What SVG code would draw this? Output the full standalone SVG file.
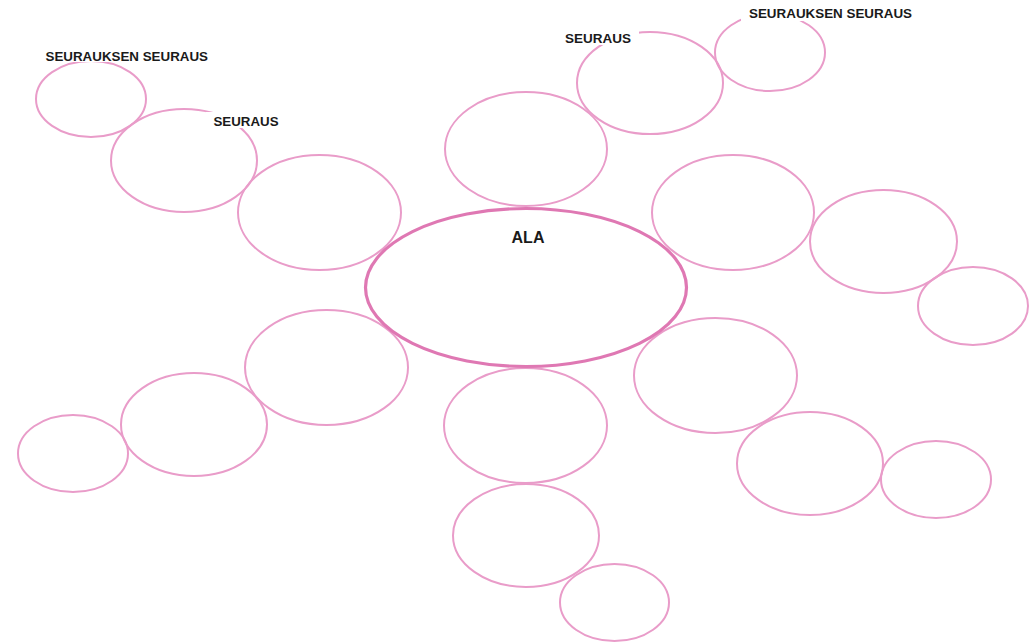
<svg xmlns="http://www.w3.org/2000/svg" width="1035" height="643" viewBox="0 0 1035 643">
<style>
.n{fill:none;stroke:#e99cc9;stroke-width:2}
.c{fill:none;stroke:#df78b3;stroke-width:3.2}
.t{font-family:"Liberation Sans",Arial,sans-serif;font-weight:bold;font-size:13.4px;fill:#1a1a1a}
.ta{font-family:"Liberation Sans",Arial,sans-serif;font-weight:bold;font-size:16px;fill:#1a1a1a}
.bg{fill:#ffffff}
</style>
<rect width="1035" height="643" fill="#ffffff"/>
<g id="connectors"></g>
<g id="n-top"><ellipse class="n" cx="526" cy="149" rx="81" ry="57"/></g>
<g id="n-topleft"><ellipse class="n" cx="319.5" cy="212.5" rx="81.5" ry="57.5"/></g>
<g id="n-topleft-2"><ellipse class="n" cx="184" cy="160.5" rx="73" ry="51.5"/></g>
<g id="n-topleft-3"><ellipse class="n" cx="91" cy="99" rx="55" ry="38"/></g>
<g id="n-topright-2"><ellipse class="n" cx="650" cy="83" rx="73" ry="51"/></g>
<g id="n-topright-3"><ellipse class="n" cx="770" cy="52.5" rx="55" ry="38.5"/></g>
<g id="n-right"><ellipse class="n" cx="733" cy="212.5" rx="81" ry="57.5"/></g>
<g id="n-right-2"><ellipse class="n" cx="883.5" cy="241.5" rx="73.5" ry="51.5"/></g>
<g id="n-right-3"><ellipse class="n" cx="973" cy="306" rx="55" ry="39"/></g>
<g id="n-bottomleft"><ellipse class="n" cx="326.5" cy="367.5" rx="81.5" ry="57.5"/></g>
<g id="n-bottomleft-2"><ellipse class="n" cx="194" cy="424.5" rx="73" ry="51.5"/></g>
<g id="n-bottomleft-3"><ellipse class="n" cx="73" cy="453.5" rx="55" ry="38.5"/></g>
<g id="n-bottom"><ellipse class="n" cx="525.5" cy="425.5" rx="81.5" ry="57.5"/></g>
<g id="n-bottom-2"><ellipse class="n" cx="526" cy="535.5" rx="73" ry="51.5"/></g>
<g id="n-bottom-3"><ellipse class="n" cx="614.5" cy="602.5" rx="54.5" ry="38.5"/></g>
<g id="n-bottomright"><ellipse class="n" cx="715.5" cy="375.5" rx="81.5" ry="57.5"/></g>
<g id="n-bottomright-2"><ellipse class="n" cx="810" cy="463.5" rx="73" ry="51.5"/></g>
<g id="n-bottomright-3"><ellipse class="n" cx="936" cy="479.5" rx="55" ry="38.5"/></g>
<g id="n-center">
<ellipse class="c" cx="526" cy="287.5" rx="160.5" ry="79"/>
<text class="ta" x="528" y="242.5" text-anchor="middle">ALA</text>
</g>
<g id="labels">
<rect class="bg" x="38" y="46" width="178" height="16"/>
<text class="t" x="45.5" y="60.5" textLength="162.5" lengthAdjust="spacingAndGlyphs">SEURAUKSEN SEURAUS</text>
<rect class="bg" x="206" y="112" width="80" height="16"/>
<text class="t" x="213.5" y="126" textLength="65" lengthAdjust="spacingAndGlyphs">SEURAUS</text>
<rect class="bg" x="558" y="29" width="81" height="16"/>
<text class="t" x="565" y="43" textLength="66" lengthAdjust="spacingAndGlyphs">SEURAUS</text>
<rect class="bg" x="741" y="4" width="179" height="17"/>
<text class="t" x="749" y="18.3" textLength="163" lengthAdjust="spacingAndGlyphs">SEURAUKSEN SEURAUS</text>
</g>
</svg>
